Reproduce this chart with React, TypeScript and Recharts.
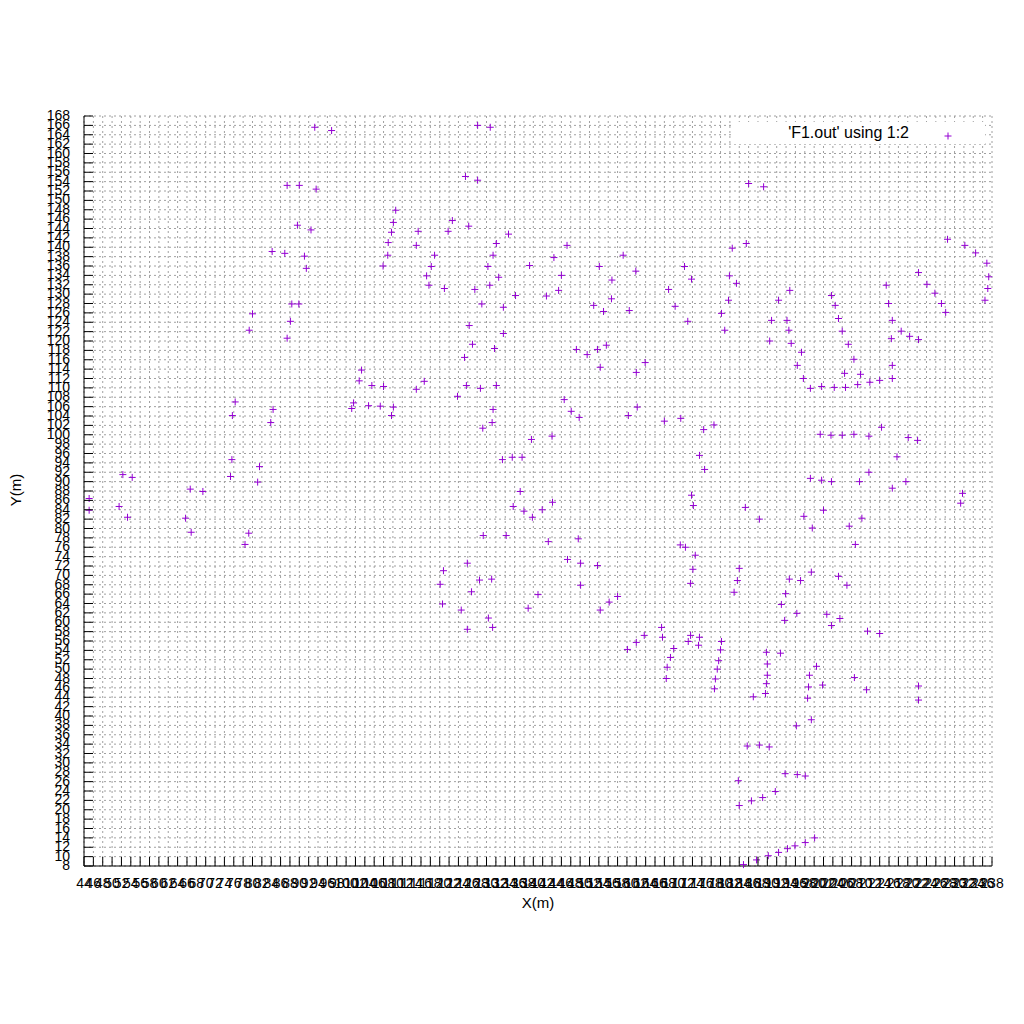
import { ScatterChart, Scatter, XAxis, YAxis, CartesianGrid, Legend } from "recharts";

const FONT = "'Liberation Sans', Arial, sans-serif";
const PURPLE = "#9400D3";

const xTicks = [
  44, 46, 48, 50, 52, 54, 56, 58, 60, 62, 64, 66, 68, 70, 72, 74, 76, 78, 80, 82,
  84, 86, 88, 90, 92, 94, 96, 98, 100, 102, 104, 106, 108, 110, 112, 114, 116, 118,
  120, 122, 124, 126, 128, 130, 132, 134, 136, 138, 140, 142, 144, 146, 148, 150,
  152, 154, 156, 158, 160, 162, 164, 166, 168, 170, 172, 174, 176, 178, 180, 182,
  184, 186, 188, 190, 192, 194, 196, 198, 200, 202, 204, 206, 208, 210, 212, 214,
  216, 218, 220, 222, 224, 226, 228, 230, 232, 234, 236, 238,
];

const yTicks = [
  8, 10, 12, 14, 16, 18, 20, 22, 24, 26, 28, 30, 32, 34, 36, 38, 40, 42, 44, 46,
  48, 50, 52, 54, 56, 58, 60, 62, 64, 66, 68, 70, 72, 74, 76, 78, 80, 82, 84, 86,
  88, 90, 92, 94, 96, 98, 100, 102, 104, 106, 108, 110, 112, 114, 116, 118, 120,
  122, 124, 126, 128, 130, 132, 134, 136, 138, 140, 142, 144, 146, 148, 150, 152,
  154, 156, 158, 160, 162, 164, 166, 168,
];

// points, grouped by area
const upperLeft = [
  [93.3, 165.6], [96.9, 164.9], [87.4, 153.2], [90, 153.2], [93.6, 152.4],
  [89.6, 144.7], [92.5, 143.7], [84.2, 139.1], [86.9, 138.7], [91.1, 138.1],
  [91.5, 135.5], [107.9, 136], [88.4, 127.9], [89.9, 127.9], [80, 125.8],
  [88.1, 124.2], [79.3, 122.3], [87.4, 120.6], [103.3, 113.8], [102.8, 111.5],
  [105.5, 110.5], [108, 110.3], [76.3, 107], [101.6, 106.8], [101.2, 105.6],
  [104.8, 106.2], [107.3, 106.1], [84.4, 105.4], [75.7, 104.1], [83.9, 102.6],
  [75.6, 94.7], [81.5, 93.2], [52.3, 91.5], [54.3, 90.9], [75.3, 91.1], [81.1, 89.9],
];

const lowerLeft = [
  [66.7, 88.4], [69.4, 87.9], [45.1, 86.4], [45.1, 83.9], [51.5, 84.7],
  [53.3, 82.4], [65.7, 82.2], [66.9, 79.2], [79.2, 79], [78.4, 76.6],
];

const upperMiddle = [
  [128.1, 166], [130.8, 165.6], [125.5, 155.1], [128.1, 154.3], [110.6, 147.9],
  [110.1, 145.3], [109.7, 143.2], [109, 141], [108.9, 138.3], [122.7, 145.7],
  [126.2, 144.5], [115.4, 143.4], [121.8, 143.4], [134.7, 142.8], [115, 140.4],
  [132.1, 140.8], [147.2, 140.4], [118.9, 138.3], [131.4, 138.3], [144.4, 137.8],
  [159.2, 138.3], [118.2, 135.9], [130.3, 135.9], [139.2, 136.1], [154.1, 135.9],
  [172.3, 135.9], [117.2, 133.9], [132.6, 133.6], [146, 134], [161.9, 134.9],
  [173.8, 133.2], [156.8, 133], [117.7, 131.9], [121, 131.2], [127.5, 131],
  [130.7, 131.9], [145.4, 130.8], [136.2, 129.7], [142.8, 129.6], [168.9, 131],
  [129, 127.9], [133.6, 127.2], [152.9, 127.6], [155, 126.3], [156.7, 129],
  [160.5, 126.5], [170.3, 127.4], [173, 124.2], [126.3, 123.3], [133.6, 121.6],
  [127, 119.3], [131.7, 118.4], [125.3, 116.5], [149.2, 118.2], [151.5, 117.1],
  [153.7, 118.2], [155.6, 119.1], [154.3, 114.4], [162, 113.3], [163.9, 115.4],
  [116.7, 111.4], [115, 109.7], [125.7, 110.5], [128.7, 109.9], [132.1, 110.5],
  [123.8, 108.2], [110.1, 105.9], [109.7, 104.1], [131.4, 105.4], [131.2, 102.6],
  [129.2, 101.4], [146.6, 107.5], [148.1, 105], [149.8, 103.7], [160.3, 104.1],
  [162.2, 105.9], [168, 102.9], [171.5, 103.5], [139.6, 99], [144, 99.7],
  [133.4, 94.7], [135.5, 95.2], [137.6, 95.2],
];

const lowerMiddle = [
  [137.2, 87.9], [135.7, 84.7], [138, 83.7], [139.8, 82.4], [141.9, 84],
  [144.1, 85.6], [173.8, 87.1], [174.2, 84.9], [129.3, 78.5], [134.2, 78.5],
  [143.2, 77.2], [149.6, 77.8], [171.4, 76.5], [172.5, 76], [174.6, 74.3],
  [147.3, 73.4], [150.1, 72.6], [153.7, 72.1], [125.9, 72.6], [120.8, 71],
  [120.1, 68.1], [128.5, 69], [131.1, 69.2], [126.8, 66.5], [120.6, 63.9],
  [124.6, 62.6], [130.4, 60.9], [125.9, 58.5], [131.3, 58.9], [141, 65.9],
  [138.9, 63], [150.1, 67.9], [154.3, 62.6], [156.2, 64.3], [158, 65.5],
  [174.1, 71.3], [173.6, 68.3], [160.1, 54.2], [162, 55.7], [163.7, 57.2],
  [167.4, 58.9], [167.6, 56.8], [170, 54.4], [169.3, 52.5], [168.6, 50.4],
  [168.4, 48], [173.6, 57.2], [173.1, 55.9],
];

const upperRight = [
  [186, 153.6], [189.2, 152.9], [182.5, 139.8], [185.5, 140.8], [228.5, 141.7],
  [232.2, 140.4], [234.5, 138.8], [236.9, 136.6], [237.3, 133.7], [237.1, 131.2],
  [236.5, 128.7], [181.9, 133.9], [183.4, 132.3], [181.7, 128.7], [180.2, 125.9],
  [180.9, 122.3], [194.8, 130.8], [192.4, 128.7], [190.9, 124.4], [194.2, 124.4],
  [194.6, 122.3], [190.5, 120], [195.1, 119.5], [197.3, 117.6], [196.4, 114.8],
  [197.7, 112], [199.2, 109.9], [201.6, 110.3], [204.3, 110.1], [206.7, 110.1],
  [209.3, 110.7], [211.9, 111.2], [214, 111.6], [216.7, 112], [216.7, 114.8],
  [206.5, 113.1], [209.9, 112.9], [208.5, 116.1], [207.3, 119.3], [206, 122.1],
  [205.2, 124.8], [204.5, 127.6], [203.7, 129.7], [215.4, 131.9], [215.9, 128],
  [216.7, 124.4], [216.5, 120.5], [218.6, 122.1], [220.4, 121], [222.3, 120.3],
  [222.3, 134.6], [224.1, 132.1], [225.8, 130.2], [227.2, 128], [228.1, 126.1],
  [176.4, 101.1], [178.6, 102.1], [175.5, 95.6], [176.6, 92.6], [201.3, 100.1],
  [203.6, 99.9], [206, 99.9], [208.5, 100.1], [211.7, 99.7], [214.4, 101.6],
  [220.1, 99.4], [222.1, 98.8], [217.7, 95.3], [211.7, 92], [199.2, 90.7],
  [201.6, 90.3], [203.7, 90], [209.7, 90], [216.7, 88.6], [219.6, 90],
];

const lowerRight = [
  [231.7, 87.5], [231.3, 85.4], [185.3, 84.5], [188.3, 82], [197.8, 82.6],
  [199.6, 80.1], [202, 83.9], [207.5, 80.5], [210.2, 82.2], [208.8, 76.6],
  [184, 71.5], [183.6, 68.9], [182.9, 66.4], [194.7, 69.2], [197.1, 68.9],
  [199.4, 70.7], [205.2, 69.8], [207, 67.9], [193.9, 66.1], [193, 63.8],
  [193.7, 60.4], [196.3, 61.9], [202.7, 61.7], [205.5, 60.8], [203.7, 59.3],
  [211.4, 58.1], [214, 57.6], [175.5, 56.8], [175.3, 55.1], [180.2, 55.9],
  [180, 54.1], [179.6, 51.8], [179.3, 50], [178.9, 47.9], [178.7, 45.8],
  [189.8, 53.6], [190, 51.1], [190, 48.7], [189.8, 46.9], [189.6, 44.8],
  [187, 44.1], [192.8, 53.4], [200.5, 50.6], [199, 48.7], [198.8, 46.2],
  [198.6, 43.8], [201.8, 46.6], [208.6, 48.2], [211.2, 45.6], [222.3, 46.4],
  [222.3, 43.4], [199.4, 39.2], [196.2, 37.9], [185.7, 33.6], [188.3, 33.8],
  [190.4, 33.4], [193.8, 27.7], [196.4, 27.5], [198.1, 27.2], [183.8, 26.2],
  [191.7, 23.9], [189, 22.6], [186.6, 21.9], [184, 20.9], [200.1, 14],
  [198.1, 13], [195.9, 12.3], [194.3, 11.7], [192.4, 10.9], [190.2, 10.2],
  [187.7, 9.3], [184.9, 8.3],
];

const data = [...upperLeft, ...lowerLeft, ...upperMiddle, ...lowerMiddle, ...upperRight, ...lowerRight].map(
  ([x, y]) => ({ x, y })
);

const Plus = (props: any) => {
  const { cx, cy } = props;
  if (cx == null || cy == null) return null;
  return (
    <path
      d={`M${cx - 3.5},${cy}h7M${cx},${cy - 3.5}v7`}
      stroke={PURPLE}
      strokeWidth={1}
      fill="none"
    />
  );
};

const BottomTick = (props: any) => {
  const { x, y, payload } = props;
  return (
    <g>
      <line x1={x} x2={x} y1={y} y2={y - 9} stroke="#000" />
      <text x={x} y={y + 22} textAnchor="middle" fontSize={14} fontFamily={FONT} fill="#000">
        {payload.value}
      </text>
    </g>
  );
};

const TopTick = (props: any) => {
  const { x, y } = props;
  return <line x1={x} x2={x} y1={y} y2={y + 9} stroke="#000" />;
};

const LeftTick = (props: any) => {
  const { x, y, payload } = props;
  return (
    <g>
      <line x1={x} x2={x + 9} y1={y} y2={y} stroke="#000" />
      <text x={x - 14} y={y + 4} textAnchor="end" fontSize={14} fontFamily={FONT} fill="#000">
        {payload.value}
      </text>
    </g>
  );
};

const RightTick = (props: any) => {
  const { x, y } = props;
  return <line x1={x} x2={x - 9} y1={y} y2={y} stroke="#000" />;
};

const KeyBox = () => (
  <div style={{ position: "relative", width: 253, height: 22, background: "#fff", fontFamily: FONT }}>
    <span
      style={{
        position: "absolute",
        right: 76,
        top: 3,
        fontSize: 16,
        lineHeight: "16px",
        whiteSpace: "nowrap",
        color: "#000",
      }}
    >
      'F1.out' using 1:2
    </span>
    <svg style={{ position: "absolute", left: 211, top: 9 }} width={10} height={10}>
      <path d="M1.5,5h7M5,1.5v7" stroke={PURPLE} strokeWidth={1} fill="none" />
    </svg>
  </div>
);

export default function App() {
  return (
    <div style={{ width: 1008, height: 1008 }}>
      <ScatterChart width={1008} height={1008} margin={{ top: 108, right: 24, bottom: 80, left: 0 }}>
        <CartesianGrid stroke="#a0a0a0" strokeDasharray="2 3" />
        <XAxis
          type="number"
          dataKey="x"
          domain={[44, 238]}
          ticks={xTicks}
          interval={0}
          height={70}
          tickSize={0}
          tickMargin={0}
          tickLine={false}
          axisLine={{ stroke: "#000" }}
          tick={BottomTick}
          label={{
            content: (p: any) => (
              <text
                x={p.viewBox.x + p.viewBox.width / 2}
                y={p.viewBox.y + 42}
                textAnchor="middle"
                fontSize={15}
                fontFamily={FONT}
                fill="#000"
              >
                X(m)
              </text>
            ),
          }}
        />
        <XAxis
          xAxisId="top"
          orientation="top"
          type="number"
          dataKey="x"
          domain={[44, 238]}
          ticks={xTicks}
          interval={0}
          height={0}
          tickSize={0}
          tickMargin={0}
          tickLine={false}
          axisLine={{ stroke: "#000" }}
          tick={TopTick}
        />
        <YAxis
          type="number"
          dataKey="y"
          domain={[8, 168]}
          ticks={yTicks}
          interval={0}
          width={76}
          tickSize={0}
          tickMargin={0}
          tickLine={false}
          axisLine={{ stroke: "#000" }}
          tick={LeftTick}
          label={{
            content: (p: any) => {
              const cy = p.viewBox.y + p.viewBox.height / 2 - 1;
              return (
                <text
                  x={13}
                  y={cy}
                  transform={`rotate(-90 13 ${cy})`}
                  textAnchor="middle"
                  fontSize={15}
                  fontFamily={FONT}
                  fill="#000"
                >
                  Y(m)
                </text>
              );
            },
          }}
        />
        <YAxis
          yAxisId="right"
          orientation="right"
          type="number"
          dataKey="y"
          domain={[8, 168]}
          ticks={yTicks}
          interval={0}
          width={0}
          tickSize={0}
          tickMargin={0}
          tickLine={false}
          axisLine={{ stroke: "#000" }}
          tick={RightTick}
        />
        <Legend
          layout="vertical"
          align="center"
          verticalAlign="middle"
          wrapperStyle={{ left: 724, top: 114, width: 253, height: 22 }}
          content={() => <KeyBox />}
        />
        <Scatter
          name="'F1.out' using 1:2"
          data={data}
          fill={PURPLE}
          shape={Plus}
          isAnimationActive={false}
        />
      </ScatterChart>
    </div>
  );
}
